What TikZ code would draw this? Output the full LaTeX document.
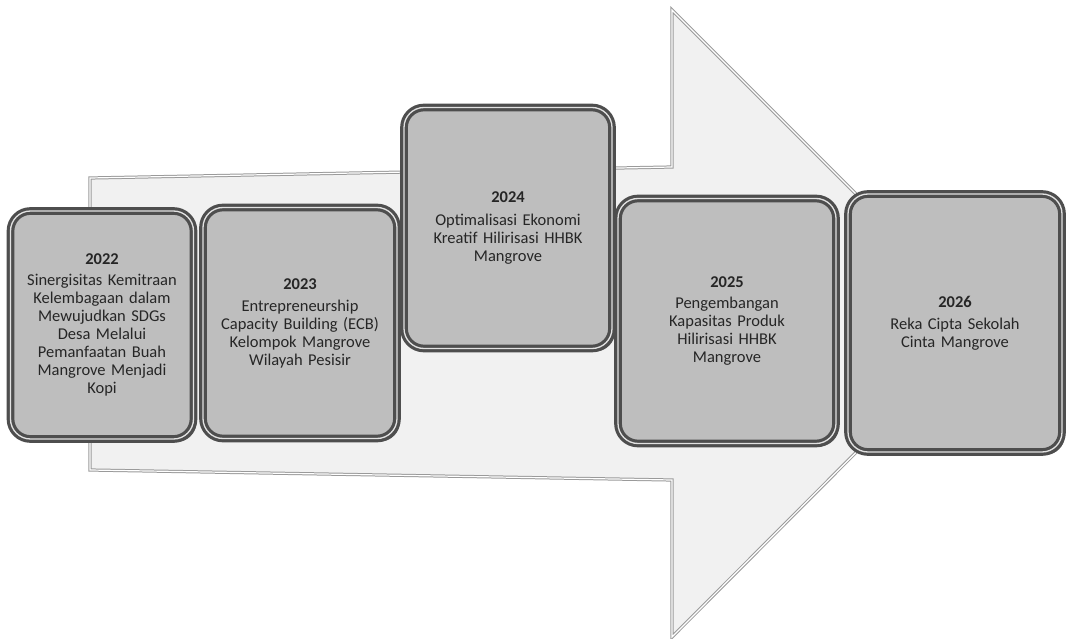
\documentclass[tikz,border=0pt]{standalone}
\usepackage{fontspec}
\setmainfont{Carlito}
\usetikzlibrary{shadows}
\definecolor{facec}{HTML}{BEBEBE}
\definecolor{rimc}{HTML}{4E4E4E}
\definecolor{hil}{HTML}{E2E2E2}
\definecolor{arrowfill}{HTML}{F1F1F1}
\definecolor{arrowline}{HTML}{9A9A9A}
\definecolor{txt}{HTML}{262626}
\begin{document}
\begin{tikzpicture}[x=1pt,y=-1pt,
  stepbox/.style={draw=rimc, line width=3.2pt, double=hil, double distance=1.3pt,
    fill=facec, rounded corners=20pt, align=center, text=txt,
    font=\fontsize{16.5}{18}\selectfont, inner sep=0pt,
    drop shadow={shadow xshift=3pt, shadow yshift=-3pt, fill=black!75, opacity=0.85}},
  arrowshape/.style={fill=arrowfill, draw=arrowline, line width=1pt, double=white, double distance=1.2pt, line join=miter}]
\useasboundingbox (0,0) rectangle (1066,639);
% big arrow
\draw[arrowshape] (90,178) -- (672,167) -- (672,10) -- (985,323) -- (672,637) -- (672,480) -- (90,470) -- cycle;
% boxes
\node[stepbox, minimum width=183pt, minimum height=228pt, text width=176pt] (b2022) at (102,325)
  {\textbf{2022}\\[3pt]Sinergisitas Kemitraan\\Kelembagaan dalam\\Mewujudkan SDGs\\Desa Melalui\\Pemanfaatan Buah\\Mangrove Menjadi\\Kopi};
\node[stepbox, minimum width=194pt, minimum height=231pt, text width=185pt] (b2023) at (300,323)
  {\textbf{2023}\\[4pt]Entrepreneurship\\Capacity Building (ECB)\\Kelompok Mangrove\\Wilayah Pesisir};
\node[stepbox, minimum width=208pt, minimum height=241pt, text width=198pt] (b2024) at (508,228)
  {\textbf{2024}\\[5pt]Optimalisasi Ekonomi\\Kreatif Hilirisasi HHBK\\Mangrove\\[14pt]};
\node[stepbox, minimum width=218pt, minimum height=245pt, text width=205pt] (b2025) at (727,321)
  {\textbf{2025}\\[3pt]Pengembangan\\Kapasitas Produk\\Hilirisasi HHBK\\Mangrove\\[8pt]};
\node[stepbox, minimum width=214pt, minimum height=258pt, text width=205pt] (b2026) at (955,323)
  {\textbf{2026}\\[4pt]Reka Cipta Sekolah\\Cinta Mangrove\\[4pt]};
\end{tikzpicture}
\end{document}
